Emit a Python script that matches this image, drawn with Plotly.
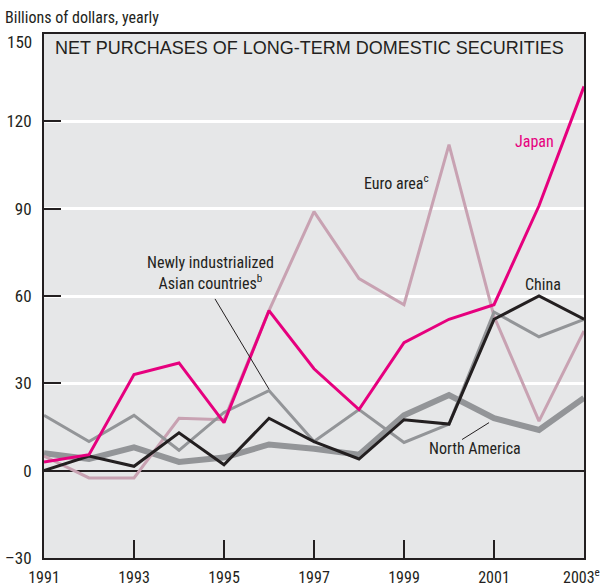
import plotly.graph_objects as go

years = list(range(1991, 2004))
japan = [3, 5.5, 33, 37, 16.5, 55, 35, 21, 44, 52, 57, 91, 132]
euro = [5, -2.5, -2.5, 18, 17.5, 55, 89, 66, 57, 112, 53, 17, 48]
china = [0, 5, 1.5, 13, 2, 18, 10, 4, 17.5, 16, 52, 60, 52]
nia = [19, 10, 19, 7, 20, 27.5, 10, 21, 9.7, 16, 54.5, 46, 52]
north_america = [6, 4, 8, 3, 4.5, 9, 7.5, 5.5, 19, 26, 18, 14, 25]

xtick_vals = [1991, 1993, 1995, 1997, 1999, 2001, 2003]
xtick_text = ["1991", "1993", "1995", "1997", "1999", "2001", ""]
last_year_label = "2003<sup>e</sup>"
ytick_vals = [-30, 0, 30, 60, 90, 120, 150]
ytick_text = ["\u201330", "0", "30", "60", "90", "120", ""]
top_tick_label = "150"

FONT = "Roboto Condensed, Liberation Sans Narrow, Arial Narrow, Liberation Sans, sans-serif"
TITLE_FONT = "Liberation Sans, Arial, Helvetica, sans-serif"
DARK = "#231f20"
GRAY = "#939598"

fig = go.Figure()
fig.add_trace(go.Scatter(x=years, y=north_america, mode="lines", line=dict(color=GRAY, width=6), hoverinfo="skip"))
fig.add_trace(go.Scatter(x=years, y=euro, mode="lines", line=dict(color="#c8a2b2", width=3), hoverinfo="skip"))
fig.add_trace(go.Scatter(x=years, y=nia, mode="lines", line=dict(color=GRAY, width=3), hoverinfo="skip"))
fig.add_trace(go.Scatter(x=years, y=china, mode="lines", line=dict(color=DARK, width=3), hoverinfo="skip"))
fig.add_trace(go.Scatter(x=years, y=japan, mode="lines", line=dict(color="#e6007e", width=3), hoverinfo="skip"))

# leader lines
fig.add_shape(type="line", x0=1994.8, y0=59, x1=1996, y1=28, line=dict(color=DARK, width=1))
fig.add_shape(type="line", x0=2000.29, y0=10.7, x1=2000.89, y1=16.5, line=dict(color=DARK, width=1))

ann_font = dict(family=FONT, size=16, color=DARK)
fig.add_annotation(x=2001.9, y=113, text="Japan", showarrow=False, font=dict(family=FONT, size=16, color="#e6007e"))
fig.add_annotation(x=1998.84, y=99, text="Euro area<sup>c</sup>", showarrow=False, font=ann_font)
fig.add_annotation(x=2002.09, y=64, text="China", showarrow=False, font=ann_font)
fig.add_annotation(x=1994.69, y=68, text="Newly industrialized<br>Asian countries<sup>b</sup>", showarrow=False, font=ann_font)
fig.add_annotation(x=2000.58, y=7.6, text="North America", showarrow=False, font=ann_font)

fig.add_annotation(xref="paper", yref="paper", x=0, y=1, xanchor="left", yanchor="middle", xshift=9, yshift=-14,
                   text="NET PURCHASES OF LONG-TERM DOMESTIC SECURITIES", showarrow=False,
                   font=dict(family=TITLE_FONT, size=18, color=DARK))
fig.add_annotation(xref="paper", yref="paper", x=0, y=1, xanchor="left", yanchor="middle", xshift=-41, yshift=17,
                   text="Billions of dollars, yearly", showarrow=False, font=dict(family=FONT, size=16, color=DARK))
fig.add_annotation(xref="paper", y=150, x=0, xanchor="right", yanchor="middle", xshift=-10, yshift=-8,
                   text=top_tick_label, showarrow=False, font=dict(family=FONT, size=17, color=DARK))
fig.add_annotation(xref="paper", yref="paper", x=1, y=0, xanchor="right", yanchor="middle", xshift=18, yshift=-18,
                   text=last_year_label, showarrow=False, font=dict(family=FONT, size=16, color=DARK))

fig.update_xaxes(range=[1991, 2003], tickvals=xtick_vals, ticktext=xtick_text, ticks="inside", ticklen=18,
                 tickwidth=2, tickcolor=DARK, showgrid=False, showline=True, mirror=True, linecolor=DARK,
                 linewidth=2, zeroline=False, automargin=False, ticklabelstandoff=4,
                 tickfont=dict(family=FONT, size=16, color=DARK))
fig.update_yaxes(range=[-30, 150], tickvals=ytick_vals, ticktext=ytick_text, ticks="inside", ticklen=17,
                 tickwidth=2, tickcolor=DARK, showgrid=True, gridcolor="white", gridwidth=3,
                 showline=True, mirror=True, linecolor=DARK, linewidth=2, zeroline=True, zerolinecolor=DARK,
                 zerolinewidth=2, automargin=False, ticklabelstandoff=7,
                 tickfont=dict(family=FONT, size=17, color=DARK))

fig.update_layout(width=605, height=587, margin=dict(l=44, r=21, t=34, b=29, autoexpand=False),
                  plot_bgcolor="#e6e7e8", paper_bgcolor="white", showlegend=False)
fig.write_html("out.html", config={"displayModeBar": False},
               post_script="document.body.style.margin='0';document.body.style.overflow='hidden';")
